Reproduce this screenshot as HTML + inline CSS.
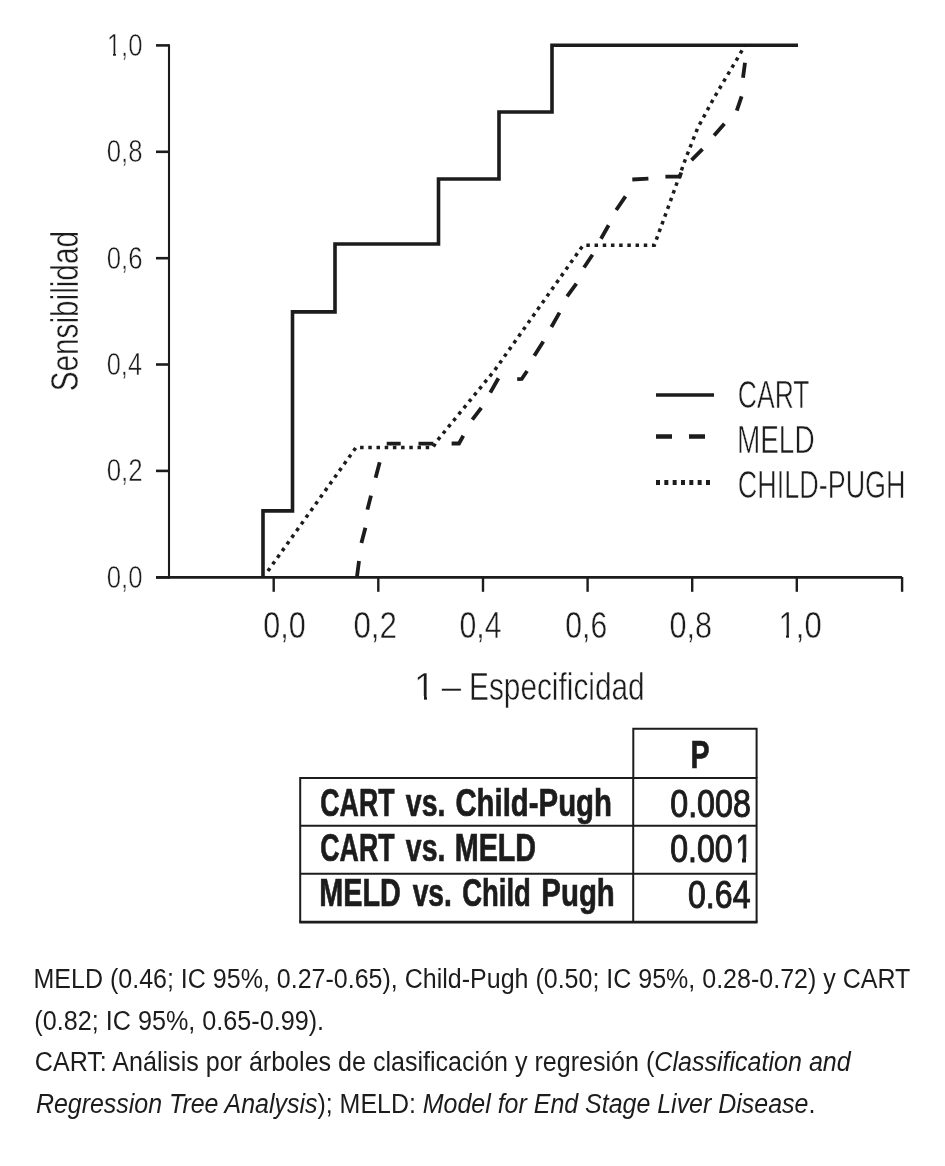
<!DOCTYPE html>
<html><head><meta charset="utf-8"><title>ROC</title>
<style>html,body{margin:0;padding:0;background:#fff;width:945px;height:1166px;overflow:hidden}svg{display:block}</style>
</head><body>
<svg width="945" height="1166" viewBox="0 0 945 1166">
<rect width="945" height="1166" fill="#fff"/>
<g stroke="#1c1c1c" fill="none">
<line x1="169" y1="44.2" x2="169" y2="578.5" stroke-width="2.1"/>
<line x1="156" y1="577.3" x2="169" y2="577.3" stroke-width="2.6"/>
<line x1="156" y1="470.9" x2="169" y2="470.9" stroke-width="2.6"/>
<line x1="156" y1="364.5" x2="169" y2="364.5" stroke-width="2.6"/>
<line x1="156" y1="258.2" x2="169" y2="258.2" stroke-width="2.6"/>
<line x1="156" y1="151.8" x2="169" y2="151.8" stroke-width="2.6"/>
<line x1="156" y1="45.4" x2="169" y2="45.4" stroke-width="2.6"/>
<line x1="156" y1="577.3" x2="902" y2="577.3" stroke-width="2.8"/>
<line x1="273.7" y1="577" x2="273.7" y2="591.8" stroke-width="2.4"/>
<line x1="378.3" y1="577" x2="378.3" y2="591.8" stroke-width="2.4"/>
<line x1="483.0" y1="577" x2="483.0" y2="591.8" stroke-width="2.4"/>
<line x1="587.6" y1="577" x2="587.6" y2="591.8" stroke-width="2.4"/>
<line x1="692.2" y1="577" x2="692.2" y2="591.8" stroke-width="2.4"/>
<line x1="796.8" y1="577" x2="796.8" y2="591.8" stroke-width="2.4"/>
<line x1="902.1" y1="577" x2="902.1" y2="591.8" stroke-width="2.4"/>
</g>
<g fill="none" stroke="#1c1c1c" stroke-linejoin="miter">
<path d="M263 577.3V510.9H292.5V311.9H335V244H438.5V179H499V112H552V45.2H798" stroke-width="3.6"/>
<path d="M357 576.5 L359 561M361.4 543 L365.4 527.8M367.4 509.6 L371 495.6M375.6 477.8 L379.7 462.2M386.7 443.7 L400.7 443.7M418.5 443.7 L433.3 443.7M451.6 443.5 L459 443.5 L463.3 435.8M472.3 419.6 L481.3 407.9M490.3 392.6 L498.4 378.3M517.2 379.2 L521.7 379 L527.1 371M534.3 355.8 L543.3 341.4M551.4 327 L559.5 312.6M567.1 296.3 L576.4 283.6M584 267.5 L592.5 254.8M601 238.7 L608.6 225.2M616.2 210 L625.5 196.4M632.3 179.5 L648.4 178.6M665.4 176.6 L679.8 176.6 L681.2 172.5M691.5 160.1 L702.5 149.2M714.1 135.4 L724.4 123.8M736.8 110.7 L741.6 96.3M743 77.8 L745 62.7" stroke-width="3.8"/>
<path d="M267.9 571 L356 447.5 L433 447.5 L436.5 441.5 L494.5 370.5 L581.3 247.8 L583.5 245.3 L654.3 245.2 L671.6 197.9 L685.3 159.5 L697.7 127.9 L714.1 97.7 L736.1 60.6 L745 45.5" stroke-width="3.5" stroke-dasharray="3.5 4.7"/>
<line x1="656" y1="395" x2="714" y2="395" stroke-width="3.7"/>
<line x1="656" y1="436.5" x2="706" y2="436.5" stroke-width="4.6" stroke-dasharray="16 17"/>
<line x1="656" y1="482.5" x2="710" y2="482.5" stroke-width="4.8" stroke-dasharray="4 4.33"/>
</g>
<g fill="none" stroke="#1c1c1c" stroke-width="2">
<path d="M633.3 778V728.8H756.6V778"/>
<path d="M300.2 922V778H756.6V922"/>
<line x1="300.2" y1="825.7" x2="756.6" y2="825.7"/>
<line x1="300.2" y1="873.8" x2="756.6" y2="873.8"/>
<line x1="633.2" y1="778" x2="633.2" y2="922"/>
<line x1="299.2" y1="922.2" x2="757.6" y2="922.2" stroke-width="2.7"/>
</g>
<g font-family="Liberation Sans, Arial, sans-serif" fill="#1c1c1c">
<text x="106.72" y="587.70" font-size="31.2" textLength="35.76" lengthAdjust="spacingAndGlyphs" stroke="#fff" stroke-width="0.5">0,0</text>
<text x="106.71" y="481.30" font-size="31.2" textLength="35.99" lengthAdjust="spacingAndGlyphs" stroke="#fff" stroke-width="0.5">0,2</text>
<text x="106.73" y="374.90" font-size="31.2" textLength="35.33" lengthAdjust="spacingAndGlyphs" stroke="#fff" stroke-width="0.5">0,4</text>
<text x="106.72" y="268.60" font-size="31.2" textLength="35.76" lengthAdjust="spacingAndGlyphs" stroke="#fff" stroke-width="0.5">0,6</text>
<text x="106.72" y="162.20" font-size="31.2" textLength="35.76" lengthAdjust="spacingAndGlyphs" stroke="#fff" stroke-width="0.5">0,8</text>
<text x="106.69" y="55.80" font-size="31.2" textLength="35.80" lengthAdjust="spacingAndGlyphs" stroke="#fff" stroke-width="0.5">1,0</text>
<text x="8.63" y="0.00" font-size="38" textLength="160.36" lengthAdjust="spacingAndGlyphs" transform="translate(77.5 400) rotate(-90)" stroke="#fff" stroke-width="0.4">Sensibilidad</text>
<text x="263.23" y="638.10" font-size="36" textLength="42.38" lengthAdjust="spacingAndGlyphs" stroke="#fff" stroke-width="0.45">0,0</text>
<text x="353.39" y="638.10" font-size="36" textLength="43.57" lengthAdjust="spacingAndGlyphs" stroke="#fff" stroke-width="0.45">0,2</text>
<text x="459.54" y="638.10" font-size="36" textLength="42.04" lengthAdjust="spacingAndGlyphs" stroke="#fff" stroke-width="0.45">0,4</text>
<text x="565.34" y="638.10" font-size="36" textLength="41.95" lengthAdjust="spacingAndGlyphs" stroke="#fff" stroke-width="0.45">0,6</text>
<text x="669.53" y="638.10" font-size="36" textLength="42.49" lengthAdjust="spacingAndGlyphs" stroke="#fff" stroke-width="0.45">0,8</text>
<text x="778.53" y="638.10" font-size="36" textLength="43.21" lengthAdjust="spacingAndGlyphs" stroke="#fff" stroke-width="0.45">1,0</text>
<text x="413.89" y="700.00" font-size="38.8" textLength="21.59" lengthAdjust="spacingAndGlyphs" stroke="#fff" stroke-width="0.5">1</text>
<text x="441.75" y="700.00" font-size="38.8" textLength="19.37" lengthAdjust="spacingAndGlyphs" stroke="#fff" stroke-width="0.5">–</text>
<text x="469.05" y="700.00" font-size="38.8" textLength="175.59" lengthAdjust="spacingAndGlyphs" stroke="#fff" stroke-width="0.5">Especificidad</text>
<text x="737.86" y="408.10" font-size="39.5" textLength="71.69" lengthAdjust="spacingAndGlyphs" stroke="#fff" stroke-width="0.6">CART</text>
<text x="736.90" y="452.90" font-size="39.5" textLength="77.71" lengthAdjust="spacingAndGlyphs" stroke="#fff" stroke-width="0.6">MELD</text>
<text x="737.84" y="497.60" font-size="39.5" textLength="167.71" lengthAdjust="spacingAndGlyphs" stroke="#fff" stroke-width="0.6">CHILD-PUGH</text>
<text x="690.55" y="767.60" font-size="39.3" font-weight="bold" textLength="19.06" lengthAdjust="spacingAndGlyphs" stroke="#1c1c1c" stroke-width="0.7">P</text>
<text x="320.32" y="815.90" font-size="39.0" font-weight="bold" textLength="74.25" lengthAdjust="spacingAndGlyphs" stroke="#1c1c1c" stroke-width="0.7">CART</text>
<text x="405.87" y="815.90" font-size="39.0" font-weight="bold" textLength="39.57" lengthAdjust="spacingAndGlyphs" stroke="#1c1c1c" stroke-width="0.7">vs.</text>
<text x="455.42" y="815.90" font-size="39.0" font-weight="bold" textLength="156.57" lengthAdjust="spacingAndGlyphs" stroke="#1c1c1c" stroke-width="0.7">Child-Pugh</text>
<text x="320.32" y="860.60" font-size="39.0" font-weight="bold" textLength="74.25" lengthAdjust="spacingAndGlyphs" stroke="#1c1c1c" stroke-width="0.7">CART</text>
<text x="405.87" y="860.60" font-size="39.0" font-weight="bold" textLength="39.57" lengthAdjust="spacingAndGlyphs" stroke="#1c1c1c" stroke-width="0.7">vs.</text>
<text x="454.71" y="860.60" font-size="39.0" font-weight="bold" textLength="81.42" lengthAdjust="spacingAndGlyphs" stroke="#1c1c1c" stroke-width="0.7">MELD</text>
<text x="319.31" y="906.40" font-size="39.0" font-weight="bold" textLength="81.53" lengthAdjust="spacingAndGlyphs" stroke="#1c1c1c" stroke-width="0.7">MELD</text>
<text x="412.67" y="906.40" font-size="39.0" font-weight="bold" textLength="39.25" lengthAdjust="spacingAndGlyphs" stroke="#1c1c1c" stroke-width="0.7">vs.</text>
<text x="462.19" y="906.40" font-size="39.0" font-weight="bold" textLength="68.71" lengthAdjust="spacingAndGlyphs" stroke="#1c1c1c" stroke-width="0.7">Child</text>
<text x="541.37" y="906.40" font-size="39.0" font-weight="bold" textLength="73.46" lengthAdjust="spacingAndGlyphs" stroke="#1c1c1c" stroke-width="0.7">Pugh</text>
<text x="670.23" y="816.90" font-size="38" textLength="80.62" lengthAdjust="spacingAndGlyphs" stroke="#1c1c1c" stroke-width="1.0">0.008</text>
<text x="670.23" y="861.90" font-size="38" textLength="62.50" lengthAdjust="spacingAndGlyphs" stroke="#1c1c1c" stroke-width="1.0">0.00</text>
<text x="735.50" y="861.90" font-size="38" textLength="16.91" lengthAdjust="spacingAndGlyphs" stroke="#1c1c1c" stroke-width="1.0">1</text>
<text x="688.03" y="907.50" font-size="38" textLength="62.49" lengthAdjust="spacingAndGlyphs" stroke="#1c1c1c" stroke-width="1.0">0.64</text>
<text x="33.50" y="987.80" font-size="26.8" textLength="876.84" lengthAdjust="spacingAndGlyphs">MELD (0.46; IC 95%, 0.27-0.65), Child-Pugh (0.50; IC 95%, 0.28-0.72) y CART</text>
<text x="34.36" y="1030.30" font-size="26.8" textLength="289.77" lengthAdjust="spacingAndGlyphs">(0.82; IC 95%, 0.65-0.99).</text>
<text x="34.83" y="1071.00" font-size="26.8" textLength="815.92" lengthAdjust="spacingAndGlyphs">CART: Análisis por árboles de clasificación y regresión (<tspan font-style="italic">Classification and</tspan></text>
<text x="35.90" y="1112.60" font-size="26.8" textLength="779.44" lengthAdjust="spacingAndGlyphs"><tspan font-style="italic">Regression Tree Analysis</tspan>); MELD: <tspan font-style="italic">Model for End Stage Liver Disease</tspan>.</text>
</g>
<g fill="#fff">
<rect x="107.8" y="53.0" width="5.2" height="3.2"/>
<rect x="116.0" y="53.0" width="5.2" height="3.2"/>
<rect x="779.8" y="634.0" width="6.2" height="4.2"/>
<rect x="789.0" y="634.0" width="6.2" height="4.2"/>
<rect x="415.8" y="696.0" width="8.2" height="4.2"/>
<rect x="427.0" y="696.0" width="7.2" height="4.2"/>
<rect x="735.8" y="857.0" width="6.2" height="6.2"/>
<rect x="746.0" y="857.0" width="7.2" height="6.2"/>
</g>
</svg>
</body></html>
